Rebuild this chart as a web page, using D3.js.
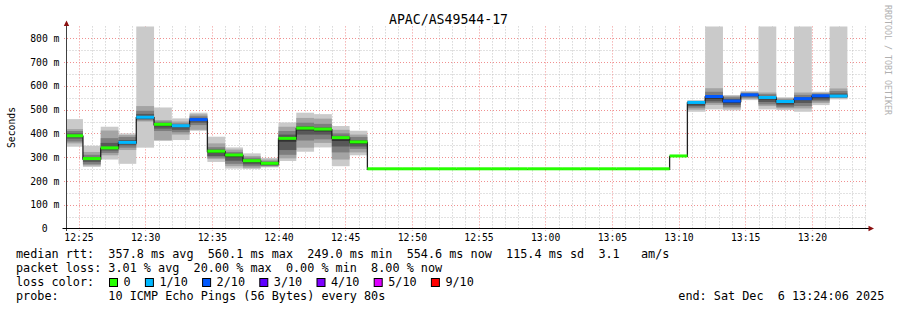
<!DOCTYPE html>
<html>
<head>
<meta charset="utf-8">
<script src="https://cdn.jsdelivr.net/npm/d3@7"></script>
<style>
  body { margin: 0; background: #fff; }
  text { font-family: "DejaVu Sans Mono", monospace; }
</style>
</head>
<body>
<div id="chart"></div>
<script>
// smokeping style latency graph
const title = "APAC/AS49544-17";
const firstStep = "2025-12-06T12:24:00Z";
const stepSeconds = 80;
const rangeStart = "2025-12-06T12:24:06Z";
const rangeEnd = "2025-12-06T13:24:06Z";

// median rtt per 80s step, in ms
const medians = [388, 292, 337, 360, 466, 436, 430, 456, 323, 307, 283, 272, 377, 420, 416, 380, 362,
  249, 249, 249, 249, 249, 249, 249, 249, 249, 249, 249, 249, 249, 249, 249, 249, 249,
  303, 528, 553, 534, 560, 549, 532, 544, 556, 555];

// lost pings out of 10 per step
const losses = [0, 0, 0, 1, 1, 0, 1, 2, 0, 0, 0, 0, 0, 0, 0, 0, 0,
  0, 0, 0, 0, 0, 0, 0, 0, 0, 0, 0, 0, 0, 0, 0, 0, 0,
  0, 1, 2, 2, 2, 1, 1, 2, 2, 1];

// sorted ping times per step (smoke), null = no smoke
const pings = [
  [344, 358, 366, 378, 386, 390, 400, 410, 418, 460],
  [259, 265, 270, 280, 288, 293, 300, 310, 322, 348],
  [290, 308, 318, 328, 334, 340, 360, 380, 412, 428],
  [272, 330, 340, 350, 357, 363, 372, 385, 393, 400],
  [340, 450, 455, 460, 463, 470, 482, 495, 515, 900],
  [368, 372, 410, 420, 430, 438, 442, 450, 456, 509],
  [372, 395, 405, 415, 426, 432, 436, 442, 450, 463],
  [411, 415, 435, 445, 452, 458, 465, 472, 480, 487],
  [280, 292, 298, 305, 318, 326, 332, 342, 358, 386],
  [252, 262, 272, 285, 300, 309, 315, 322, 332, 341],
  [250, 255, 262, 270, 278, 285, 290, 298, 305, 316],
  [257, 260, 263, 266, 270, 274, 278, 283, 290, 297],
  [284, 295, 310, 330, 365, 380, 395, 410, 428, 446],
  [323, 340, 370, 395, 412, 422, 430, 445, 465, 487],
  [341, 360, 375, 395, 408, 418, 425, 440, 462, 481],
  [262, 290, 320, 345, 368, 382, 390, 400, 415, 431],
  [308, 320, 335, 345, 356, 364, 372, 385, 395, 411],
  null, null, null, null, null, null, null, null, null,
  null, null, null, null, null, null, null, null,
  null,
  [491, 500, 508, 515, 522, 530, 532, 534, 536, 540],
  [501, 520, 528, 535, 545, 555, 560, 575, 590, 900],
  [497, 505, 512, 520, 528, 537, 545, 552, 558, 561],
  [540, 545, 550, 555, 558, 562, 566, 570, 574, 578],
  [501, 515, 522, 532, 543, 552, 558, 565, 572, 900],
  [498, 505, 510, 518, 526, 534, 538, 542, 548, 552],
  [491, 505, 515, 528, 540, 547, 552, 562, 572, 900],
  [519, 528, 535, 542, 550, 558, 562, 567, 571, 575],
  [543, 548, 552, 555, 557, 562, 568, 578, 589, 900]
];

const yTicks = [0, 100, 200, 300, 400, 500, 600, 700, 800];
const lossLevels = [0, 1, 2, 3, 4, 5, 9];
const lossLabels = ["0", "1/10", "2/10", "3/10", "4/10", "5/10", "9/10"];
const lossColors = ["#26ff00", "#00b8ff", "#0059ff", "#5e00ff", "#7e00ff", "#dd00ff", "#ff0000"];
const smokeGrays = ["#cacaca", "#a4a4a4", "#7e7e7e", "#585858", "#323232"];

const statLines = [
  "median rtt:  357.8 ms avg  560.1 ms max  249.0 ms min  554.6 ms now  115.4 ms sd  3.1   am/s",
  "packet loss: 3.01 % avg  20.00 % max  0.00 % min  8.00 % now",
  "loss color:",
  "probe:       10 ICMP Echo Pings (56 Bytes) every 80s"
];
const endLabel = "end: Sat Dec  6 13:24:06 2025";

const W = 897, H = 310;
const plot = {left: 66.5, right: 866.5, top: 26.4, bottom: 228.5};

const svg = d3.select("#chart").append("svg")
  .attr("width", W)
  .attr("height", H);

svg.append("rect").attr("width", W).attr("height", H).attr("fill", "#fff");

const x = d3.scaleUtc()
  .domain([new Date(rangeStart), new Date(rangeEnd)])
  .range([plot.left, plot.right]);

const y = d3.scaleLinear()
  .domain([0, 850])
  .range([plot.bottom, plot.top]);

const t0 = new Date(firstStep).getTime();
const steps = medians.map((m, i) => ({
  start: new Date(t0 + i * stepSeconds * 1000),
  end: new Date(t0 + (i + 1) * stepSeconds * 1000),
  median: m,
  loss: losses[i],
  pings: pings[i]
}));

// grid
const grid = svg.append("g");
const minorX = x.ticks(d3.utcMinute.every(1)).filter(d => d.getUTCMinutes() % 5 !== 0);
const majorX = x.ticks(d3.utcMinute.every(5));
const minorY = d3.range(50, 850, 100);

grid.selectAll(".minx").data(minorX).enter().append("line")
  .attr("x1", d => Math.round(x(d)) + 0.5).attr("x2", d => Math.round(x(d)) + 0.5)
  .attr("y1", plot.top).attr("y2", plot.bottom)
  .attr("stroke", "#c4c4c4").attr("stroke-dasharray", "1,2");
grid.selectAll(".miny").data(minorY).enter().append("line")
  .attr("x1", plot.left).attr("x2", plot.right + 1)
  .attr("y1", d => Math.round(y(d)) + 0.5).attr("y2", d => Math.round(y(d)) + 0.5)
  .attr("stroke", "#c4c4c4").attr("stroke-dasharray", "1,2");
grid.selectAll(".majx").data(majorX).enter().append("line")
  .attr("x1", d => Math.round(x(d)) + 0.5).attr("x2", d => Math.round(x(d)) + 0.5)
  .attr("y1", plot.top).attr("y2", plot.bottom + 2.5)
  .attr("stroke", "#f09090").attr("stroke-dasharray", "1,2");
grid.selectAll(".majy").data(yTicks.filter(d => d > 0)).enter().append("line")
  .attr("x1", plot.left - 2.5).attr("x2", plot.right + 1)
  .attr("y1", d => Math.round(y(d)) + 0.5).attr("y2", d => Math.round(y(d)) + 0.5)
  .attr("stroke", "#f09090").attr("stroke-dasharray", "1,2");

// data
svg.append("clipPath").attr("id", "clip").append("rect")
  .attr("x", plot.left).attr("y", plot.top)
  .attr("width", plot.right - plot.left).attr("height", plot.bottom - plot.top);

const g = svg.append("g").attr("clip-path", "url(#clip)");

const smoke = steps.filter(d => d.pings);
smokeGrays.forEach((c, i) => {
  g.selectAll(".smoke" + i).data(smoke).enter().append("rect")
    .attr("x", d => x(d.start))
    .attr("width", d => x(d.end) - x(d.start))
    .attr("y", d => y(d.pings[9 - i]))
    .attr("height", d => y(d.pings[i]) - y(d.pings[9 - i]))
    .attr("fill", c);
});

const stepLine = d3.line()
  .x(d => x(d[0]))
  .y(d => y(d[1]))
  .curve(d3.curveStepAfter);
const linePts = steps.map(d => [d.start, d.median]);
linePts.push([steps[steps.length - 1].end, steps[steps.length - 1].median]);

g.append("path")
  .attr("d", stepLine(linePts))
  .attr("fill", "none")
  .attr("stroke", "#202020")
  .attr("stroke-width", 1.3);

g.selectAll(".band").data(steps).enter().append("rect")
  .attr("x", d => x(d.start))
  .attr("width", d => x(d.end) - x(d.start))
  .attr("y", d => y(d.median) - 2)
  .attr("height", 3)
  .attr("fill", d => lossColors[lossLevels.indexOf(d.loss)]);

// axes
const yAxis = d3.axisLeft(y).tickValues(yTicks).tickSize(0).tickPadding(7)
  .tickFormat(d => d === 0 ? "0" : d + " m");
const yg = svg.append("g").attr("transform", "translate(" + plot.left + ",0)").call(yAxis);
yg.select(".domain").remove();
yg.selectAll("text").attr("font-size", 9.75).attr("font-family", "DejaVu Sans Mono").attr("fill", "#000");
yg.selectAll(".tick").filter(d => d === 0).select("text").attr("x", -19);

const xAxis = d3.axisBottom(x).ticks(d3.utcMinute.every(5)).tickSize(0).tickPadding(5.5)
  .tickFormat(d3.utcFormat("%H:%M"));
const xg = svg.append("g").attr("transform", "translate(0," + plot.bottom + ")").call(xAxis);
xg.select(".domain").remove();
xg.selectAll("text").attr("font-size", 9.75).attr("font-family", "DejaVu Sans Mono").attr("fill", "#000");

svg.append("line")
  .attr("x1", plot.left).attr("x2", plot.left)
  .attr("y1", plot.bottom + 2.5).attr("y2", 22)
  .attr("stroke", "#404040").attr("stroke-width", 1);
svg.append("line")
  .attr("x1", plot.left - 4).attr("x2", plot.right + 3)
  .attr("y1", plot.bottom).attr("y2", plot.bottom)
  .attr("stroke", "#000").attr("stroke-width", 1);
svg.append("path")
  .attr("d", "M" + (plot.left - 2.7) + ",26 L" + (plot.left + 2.7) + ",26 L" + plot.left + ",20.5 Z")
  .attr("fill", "#8b1010");
svg.append("path")
  .attr("d", "M" + (plot.right + 2) + "," + (plot.bottom - 2.7) + " L" + (plot.right + 2) + "," + (plot.bottom + 2.7) + " L" + (plot.right + 7.5) + "," + plot.bottom + " Z")
  .attr("fill", "#8b1010");

// titles
svg.append("text")
  .attr("x", 448.5).attr("y", 24)
  .attr("text-anchor", "middle")
  .attr("font-size", 13.2)
  .text(title);

svg.append("text")
  .attr("transform", "translate(15," + ((plot.top + plot.bottom) / 2) + ") rotate(-90)")
  .attr("text-anchor", "middle")
  .attr("font-size", 9.75)
  .text("Seconds");

svg.append("text")
  .attr("transform", "translate(884.5,5) rotate(90)")
  .attr("font-size", 8.3)
  .attr("fill", "#b0b0b0")
  .text("RRDTOOL / TOBI OETIKER");

// legend
const legendBase = [258.3, 272.3, 286.3, 300.3];
svg.selectAll(".stat").data(statLines).enter().append("text")
  .attr("x", 16)
  .attr("y", (d, i) => legendBase[i])
  .attr("font-size", 11.8)
  .attr("xml:space", "preserve")
  .style("white-space", "pre")
  .text(d => d);

svg.append("text")
  .attr("x", 678.3).attr("y", legendBase[3])
  .attr("font-size", 11.8)
  .style("white-space", "pre")
  .text(endLabel);

let lx = 109.5;
lossLabels.forEach((lab, i) => {
  svg.append("rect")
    .attr("x", lx).attr("y", 278.5)
    .attr("width", 8).attr("height", 8)
    .attr("fill", lossColors[i])
    .attr("stroke", "#000").attr("stroke-width", 1);
  svg.append("text")
    .attr("x", lx + 14).attr("y", legendBase[2])
    .attr("font-size", 11.8)
    .text(lab);
  lx = lx + 14 + lab.length * 7.1 + 14.8;
});
</script>
</body>
</html>
